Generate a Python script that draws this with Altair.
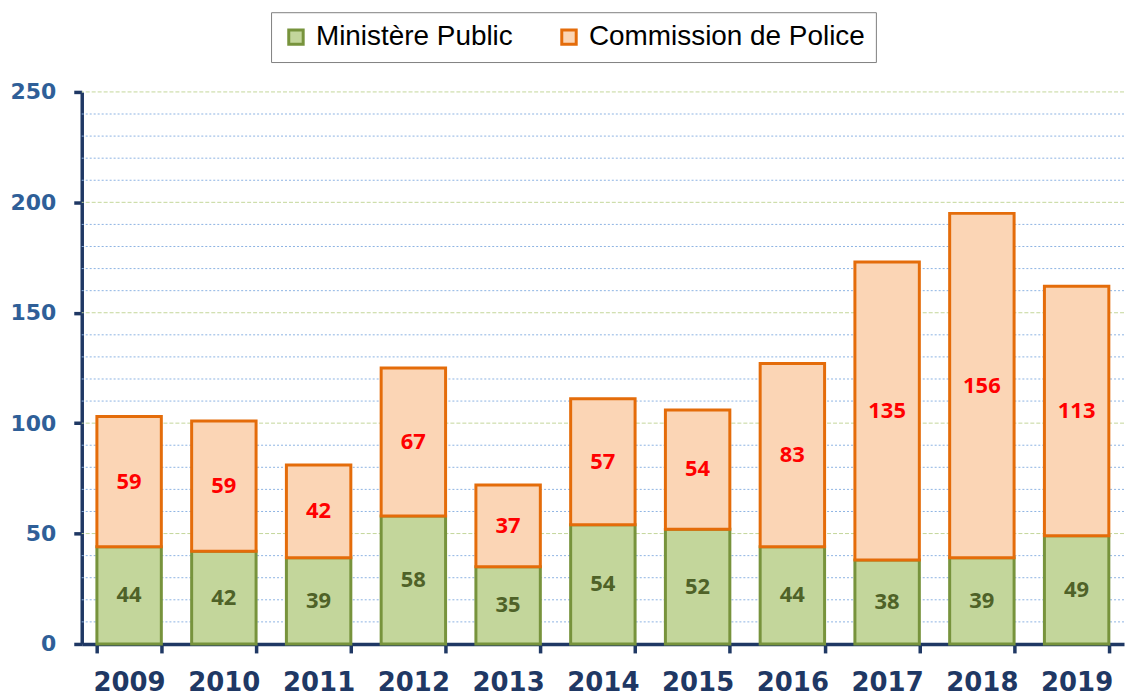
import altair as alt
import pandas as pd

years = ["2009", "2010", "2011", "2012", "2013", "2014", "2015", "2016", "2017", "2018", "2019"]
ministere = [44, 42, 39, 58, 35, 54, 52, 44, 38, 39, 49]
commission = [59, 59, 42, 67, 37, 57, 54, 83, 135, 156, 113]
series = ["Ministère Public", "Commission de Police"]
minor_grid = [10, 20, 30, 40, 60, 70, 80, 90, 110, 120, 130, 140, 160, 170, 180, 190, 210, 220, 230, 240]
major_grid = [50, 100, 150, 200, 250]
y_ticks = [0, 50, 100, 150, 200, 250]

rows = []
for i, y in enumerate(years):
    rows.append({"year": y, "series": series[0], "value": ministere[i], "ord": 0})
    rows.append({"year": y, "series": series[1], "value": commission[i], "ord": 1})
df = pd.DataFrame(rows)

fills = ["#C3D69B", "#FBD5B5"]
strokes = ["#77933C", "#E46C0A"]

xaxis = alt.Axis(labelAngle=0, labelFontSize=26, labelFont="DejaVu Sans",
                 labelFontWeight="bold", labelColor="#1F3864", labelPadding=17,
                 domainColor="#1F3864", domainWidth=3.5, tickColor="#1F3864",
                 tickWidth=3.5, tickSize=9, tickBand="extent", grid=False)
xscale = alt.Scale(paddingInner=0.32, paddingOuter=0.16)
yaxis = alt.Axis(values=y_ticks, labelFontSize=22, labelFont="DejaVu Sans",
                 labelFontWeight="bold", labelColor="#2F5F98", labelPadding=18, grid=False,
                 domainColor="#1F3864", domainWidth=3.5, tickColor="#1F3864",
                 tickWidth=3.5, tickSize=8)
yscale = alt.Scale(domain=[0, 250], nice=False)

base = alt.Chart(df)

minor = alt.Chart(pd.DataFrame({"v": minor_grid})).mark_rule(
    color="#8EB4E3", strokeDash=[2, 2], strokeWidth=1).encode(
    y=alt.Y("v:Q", scale=yscale, axis=yaxis, title=None))
major = alt.Chart(pd.DataFrame({"v": major_grid})).mark_rule(
    color="#C4D79B", strokeDash=[4, 2], strokeWidth=1).encode(
    y=alt.Y("v:Q", scale=yscale, axis=yaxis, title=None))

bars = base.mark_bar(strokeWidth=3, strokeJoin="miter").encode(
    x=alt.X("year:N", sort=years, title=None, scale=xscale, axis=xaxis),
    y=alt.Y("value:Q", stack="zero", scale=yscale, title=None, axis=yaxis),
    fill=alt.Fill("series:N", scale=alt.Scale(domain=series, range=fills),
                  legend=alt.Legend(title=None, orient="none", legendX=190, legendY=-80,
                                    direction="horizontal", labelFontSize=28,
                                    labelFont="Liberation Sans", labelColor="#000000",
                                    symbolType="square", symbolSize=210,
                                    symbolStrokeWidth=3, columnPadding=42, labelOffset=6,
                                    strokeColor="#7F7F7F", fillColor="white",
                                    padding=11, labelLimit=500)),
    stroke=alt.Stroke("series:N", scale=alt.Scale(domain=series, range=strokes)),
    order=alt.Order("ord:Q"),
)

stacked = base.transform_stack(
    stack="value", groupby=["year"], as_=["v0", "v1"], sort=[alt.SortField("ord")]
).transform_calculate(mid="(datum.v0 + datum.v1) / 2")

txt_mp = stacked.transform_filter(alt.datum.ord == 0).mark_text(
    font="Open Sans", fontWeight="bold", fontSize=22, color="#4F6228", baseline="middle").encode(
    x=alt.X("year:N", sort=years, title=None, scale=xscale, axis=xaxis),
    y=alt.Y("mid:Q", scale=yscale, axis=yaxis, title=None), text="value:Q")
txt_cp = stacked.transform_filter(alt.datum.ord == 1).mark_text(
    font="Open Sans", fontWeight="bold", fontSize=22, color="#FF0000", baseline="middle").encode(
    x=alt.X("year:N", sort=years, title=None, scale=xscale, axis=xaxis),
    y=alt.Y("mid:Q", scale=yscale, axis=yaxis, title=None), text="value:Q")

chart = alt.layer(minor, major, bars, txt_mp, txt_cp).properties(
    width=1046, height=554, background="white",
    padding={"left": 2, "top": 2, "right": 0, "bottom": 0},
).configure_view(stroke=None)

chart.save("out.html", embed_options={"renderer": "svg", "actions": False})
